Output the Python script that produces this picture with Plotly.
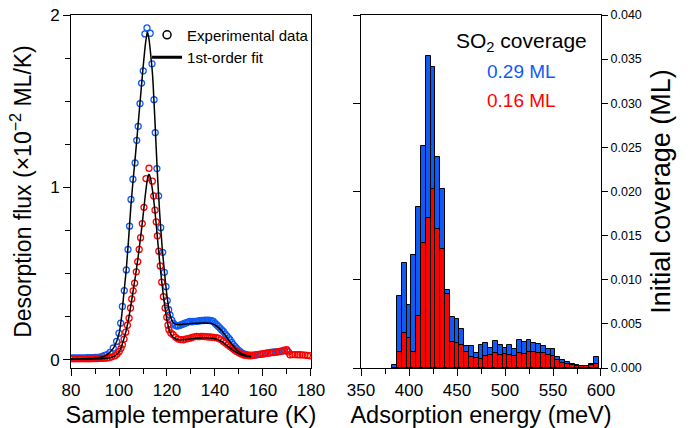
import plotly.graph_objects as go

# ---------------- Left panel: TPD spectra ----------------
T_blue = [80, 81, 82, 83, 84, 85, 86, 87, 88, 89, 90, 91, 92, 93, 94, 95, 96.25, 97.6, 99.0, 100.0,
          100.7, 101.4, 102.2, 103.05, 103.75, 104.4, 105.0, 105.8, 106.7, 107.4, 108.0, 108.75, 109.4,
          110.1, 110.8, 111.67, 113.0, 113.75, 114.6, 115.1, 115.8, 116.5, 117.4, 118.2, 118.9, 119.6,
          120.1, 120.7, 121.25, 122.0, 122.6, 123.4, 124.1, 124.7, 125.5, 126.2, 126.8, 127.5, 128.2,
          129.0, 129.6, 130.4, 131.0, 131.8, 132.4, 133.1, 133.8, 134.5, 135.1, 135.8, 136.5, 137.2,
          137.9, 138.6, 139.3, 140.0, 140.7, 141.4, 142.1, 142.8, 143.5, 144.2, 144.9, 145.6, 146.25,
          147.0, 147.6, 148.3, 149.0, 149.7, 150.4, 151.1, 151.8, 152.5, 153.2, 154, 155, 156, 157, 158,
          159, 160, 161, 162, 163, 164, 165, 166, 167, 168, 169, 170]
v_blue = [0.010, 0.010, 0.010, 0.010, 0.011, 0.011, 0.011, 0.012, 0.012, 0.012, 0.013, 0.014, 0.015, 0.020,
          0.025, 0.030, 0.042, 0.068, 0.106, 0.154, 0.212, 0.309, 0.401, 0.521, 0.640, 0.775, 0.930, 1.047,
          1.142, 1.273, 1.354, 1.486, 1.605, 1.676, 1.890, 1.925, 1.894, 1.717, 1.509, 1.318, 1.109, 0.951,
          0.766, 0.623, 0.507, 0.424, 0.343, 0.290, 0.260, 0.230, 0.212, 0.200, 0.195, 0.197, 0.200, 0.205,
          0.208, 0.212, 0.215, 0.220, 0.222, 0.220, 0.223, 0.222, 0.222, 0.225, 0.226, 0.228, 0.227, 0.230,
          0.228, 0.229, 0.228, 0.227, 0.222, 0.212, 0.203, 0.193, 0.183, 0.173, 0.164, 0.150, 0.138, 0.127,
          0.116, 0.100, 0.088, 0.077, 0.065, 0.056, 0.048, 0.040, 0.035, 0.031, 0.029, 0.027, 0.026, 0.027,
          0.028, 0.030, 0.031, 0.033, 0.036, 0.040, 0.042, 0.044, 0.045, 0.046, 0.048, 0.050, 0.052, 0.050]

T_red = [80, 81, 82, 83, 84, 85, 86, 87, 88, 89, 90, 91, 92, 93, 94, 95, 96, 97, 98.3, 99.2, 100.1, 100.8,
         101.4, 102.1, 102.8, 103.5, 104.2, 104.8, 105.3, 105.9, 106.5, 107.2, 107.8, 108.4, 109.0, 109.7,
         110.4, 111.25, 112.5, 113.9, 114.5, 115.0, 115.5, 116.0, 116.6, 117.2, 117.8, 118.5, 119.2, 119.9,
         120.4, 120.8, 121.6, 122.6, 123.6, 124.7, 125.7, 126.8, 127.8, 128.7, 129.6, 130.5, 131.4, 132.4,
         133.3, 134.2, 135.1, 136.0, 136.9, 137.8, 138.6, 139.5, 140.4, 141.4, 142.4, 143.5, 144.4, 145.3,
         146.25, 147.2, 148.1, 149.0, 150.0, 150.9, 151.8, 152.7, 153.7, 154.6, 155.6, 156.6, 157.7, 158.75,
         160, 161, 162, 163, 164.3, 165.5, 166.6, 167.8, 168.8, 169.9, 170.6, 171.25, 172.3, 173.3, 174.4,
         175.4, 176.4, 177.5, 178.5, 179.6]
v_red = [0.006, 0.006, 0.006, 0.006, 0.006, 0.006, 0.006, 0.006, 0.006, 0.007, 0.007, 0.007, 0.008, 0.008,
         0.009, 0.010, 0.013, 0.017, 0.023, 0.033, 0.048, 0.066, 0.087, 0.120, 0.160, 0.200, 0.241, 0.300,
         0.353, 0.400, 0.444, 0.510, 0.569, 0.640, 0.708, 0.790, 0.884, 1.051, 1.111, 1.036, 0.950, 0.868,
         0.800, 0.719, 0.630, 0.544, 0.450, 0.366, 0.300, 0.247, 0.200, 0.174, 0.155, 0.145, 0.130, 0.120,
         0.117, 0.116, 0.120, 0.123, 0.125, 0.130, 0.133, 0.135, 0.134, 0.135, 0.135, 0.134, 0.133, 0.132,
         0.131, 0.130, 0.128, 0.125, 0.117, 0.106, 0.097, 0.087, 0.077, 0.067, 0.057, 0.048, 0.040, 0.034,
         0.029, 0.026, 0.024, 0.023, 0.024, 0.027, 0.030, 0.033, 0.035, 0.037, 0.038, 0.040, 0.042, 0.044,
         0.047, 0.050, 0.055, 0.058, 0.045, 0.029, 0.030, 0.030, 0.029, 0.029, 0.028, 0.027, 0.025, 0.023]

T_fit_blue = [80, 90, 94, 96, 98, 100, 101, 102, 103, 104, 105, 106, 107, 108, 109, 110, 111, 111.8, 112.5,
              113, 114, 115, 116, 117, 118, 119, 120, 121, 122, 123, 124, 126, 128, 132, 136, 139, 141, 143,
              145, 147, 149, 151, 153, 155]
v_fit_blue = [0.005, 0.008, 0.020, 0.040, 0.075, 0.150, 0.240, 0.380, 0.520, 0.700, 0.900, 1.060, 1.210,
              1.370, 1.530, 1.690, 1.830, 1.900, 1.860, 1.800, 1.650, 1.380, 1.080, 0.840, 0.650, 0.500,
              0.370, 0.280, 0.230, 0.210, 0.205, 0.205, 0.208, 0.212, 0.213, 0.208, 0.192, 0.165, 0.128,
              0.090, 0.058, 0.036, 0.024, 0.019]

T_fit_red = [80, 95, 98, 100, 101, 102, 103, 104, 105, 106, 107, 108, 109, 110, 111, 112, 112.5, 113, 114,
             115, 116, 117, 118, 119, 120, 121, 122, 123, 125, 128, 132, 136, 139, 141, 143, 145, 147, 149,
             151, 153, 155]
v_fit_red = [0.003, 0.008, 0.020, 0.045, 0.075, 0.120, 0.170, 0.235, 0.320, 0.410, 0.500, 0.600, 0.710,
             0.830, 0.960, 1.060, 1.076, 1.060, 0.980, 0.860, 0.710, 0.560, 0.430, 0.320, 0.230, 0.170,
             0.140, 0.125, 0.115, 0.118, 0.125, 0.127, 0.124, 0.117, 0.103, 0.082, 0.060, 0.042, 0.028,
             0.020, 0.017]

# ---------------- Right panel: adsorption energy distribution ----------------
E_bins = [385, 390, 395, 400, 405, 410, 415, 420, 425, 430, 435, 440, 445, 450, 455, 460, 465, 470, 475,
          480, 485, 490, 495, 500, 505, 510, 515, 520, 525, 530, 535, 540, 545, 550, 555, 560, 565, 570,
          575, 580, 585, 590, 595]
cov_029 = [0.0003, 0.0082, 0.0119, 0.0071, 0.0128, 0.0183, 0.0251, 0.0353, 0.0341, 0.0239, 0.0203, 0.0088,
           0.0058, 0.0056, 0.0044, 0.0025, 0.0025, 0.0017, 0.0026, 0.0028, 0.0023, 0.0031, 0.0026, 0.0023,
           0.0026, 0.0022, 0.0032, 0.0029, 0.0032, 0.0028, 0.0027, 0.0025, 0.0021, 0.0021, 0.0012, 0.0009,
           0.0007, 0.0004, 0.0003, 0.0002, 0.0002, 0.0004, 0.0012]
cov_016 = [0.0000, 0.0018, 0.0040, 0.0034, 0.0018, 0.0059, 0.0142, 0.0170, 0.0203, 0.0158, 0.0135, 0.0084,
           0.0029, 0.0028, 0.0026, 0.0018, 0.0012, 0.0011, 0.0010, 0.0014, 0.0015, 0.0017, 0.0015, 0.0016,
           0.0015, 0.0014, 0.0017, 0.0016, 0.0018, 0.0018, 0.0017, 0.0017, 0.0015, 0.0014, 0.0009, 0.0006,
           0.0004, 0.0003, 0.0002, 0.0002, 0.0002, 0.0003, 0.0005]

BLUE = "#0F5BF5"
RED = "#FF0000"
FONT = "Liberation Sans, Arial, sans-serif"

fig = go.Figure()

fig.add_trace(go.Scatter(x=T_blue, y=v_blue, mode="markers", showlegend=False,
                         marker=dict(symbol="circle-open", size=6, color=BLUE, line=dict(width=1.3)),
                         xaxis="x", yaxis="y"))
fig.add_trace(go.Scatter(x=T_red, y=v_red, mode="markers", showlegend=False,
                         marker=dict(symbol="circle-open", size=6, color=RED, line=dict(width=1.3)),
                         xaxis="x", yaxis="y"))
fig.add_trace(go.Scatter(x=T_fit_blue, y=v_fit_blue, mode="lines", showlegend=False,
                         line=dict(color="black", width=1.5, shape="spline", smoothing=0.6),
                         xaxis="x", yaxis="y"))
fig.add_trace(go.Scatter(x=T_fit_red, y=v_fit_red, mode="lines", showlegend=False,
                         line=dict(color="black", width=1.5, shape="spline", smoothing=0.6),
                         xaxis="x", yaxis="y"))
# legend entries
fig.add_trace(go.Scatter(x=[None], y=[None], mode="markers", name="Experimental data",
                         marker=dict(symbol="circle-open", size=8, color="black", line=dict(width=1.5)),
                         xaxis="x", yaxis="y"))
fig.add_trace(go.Scatter(x=[None], y=[None], mode="lines", name="1st-order fit",
                         line=dict(color="black", width=3), xaxis="x", yaxis="y"))

fig.add_trace(go.Bar(x=E_bins, y=cov_029, width=5, marker=dict(color=BLUE, line=dict(color="black", width=1)),
                     showlegend=False, xaxis="x2", yaxis="y2"))
fig.add_trace(go.Bar(x=E_bins, y=cov_016, width=5, marker=dict(color=RED, line=dict(color="black", width=1)),
                     showlegend=False, xaxis="x2", yaxis="y2"))
# invisible trace so the left-side coverage axis of the right panel is drawn
fig.add_trace(go.Scatter(x=[E_bins[0]], y=[cov_016[0]], mode="markers", marker=dict(opacity=0),
                         showlegend=False, hoverinfo="skip", xaxis="x2", yaxis="y3"))

axis_common = dict(showline=True, linecolor="black", linewidth=1, ticks="outside", ticklen=7,
                   tickcolor="black", tickwidth=1, showgrid=False, zeroline=False, automargin=False,
                   tickfont=dict(family=FONT, size=17, color="black"))

fig.update_layout(
    width=699, height=428,
    margin=dict(l=71, r=98, t=15, b=60),
    paper_bgcolor="white", plot_bgcolor="white",
    barmode="overlay", bargap=0,
    font=dict(family=FONT, color="black"),
    xaxis=dict(domain=[0, 0.4528], range=[80, 180], dtick=20, mirror=True,
               minor=dict(dtick=10, ticks="outside", ticklen=5, tickcolor="black"),
               title=dict(text="Sample temperature (K)", font=dict(size=23.5), standoff=10),
               **axis_common),
    yaxis=dict(domain=[0, 1], range=[-0.048, 2.0], tickvals=[0, 1, 2], mirror=True,
               minor=dict(dtick=0.25, ticks="outside", ticklen=5, tickcolor="black"),
               title=dict(text="Desorption flux (×10<sup>−2</sup> ML/K)", font=dict(size=23), standoff=12),
               **axis_common),
    xaxis2=dict(domain=[0.5472, 1], range=[350, 600], dtick=50, mirror=True, anchor="y2",
                minor=dict(dtick=25, ticks="outside", ticklen=5, tickcolor="black"),
                title=dict(text="Adsorption energy (meV)", font=dict(size=23.5), standoff=10),
                **axis_common),
    yaxis2=dict(domain=[0, 1], range=[0, 0.04], dtick=0.005, tickformat=".3f", side="right",
                anchor="x2", title=dict(text="Initial coverage (ML)", font=dict(size=27), standoff=10),
                **{**axis_common, "tickfont": dict(family=FONT, size=12.5, color="black"), "ticklen": 6}),
    yaxis3=dict(overlaying="y2", anchor="x2", side="left", range=[0, 0.04], dtick=0.01,
                showticklabels=False, showline=True, linecolor="black", linewidth=1, ticks="outside",
                ticklen=7, tickcolor="black", showgrid=False, zeroline=False, automargin=False),
    legend=dict(x=0.1435, y=0.99, xanchor="left", yanchor="top", bgcolor="rgba(0,0,0,0)",
                font=dict(family=FONT, size=15, color="black"), itemwidth=30, tracegroupgap=0),
)

fig.add_annotation(xref="x2", yref="paper", x=517, y=1 - (42 - 15) / 353, text="SO<sub>2</sub> coverage",
                   xanchor="center", yanchor="middle",
                   showarrow=False, font=dict(family=FONT, size=21, color="black"))
fig.add_annotation(xref="x2", yref="paper", x=517, y=1 - (72 - 15) / 353, text="0.29 ML",
                   xanchor="center", yanchor="middle",
                   showarrow=False, font=dict(family=FONT, size=19, color=BLUE))
fig.add_annotation(xref="x2", yref="paper", x=517, y=1 - (100 - 15) / 353, text="0.16 ML",
                   xanchor="center", yanchor="middle",
                   showarrow=False, font=dict(family=FONT, size=19, color=RED))

fig.write_html("out.html")
